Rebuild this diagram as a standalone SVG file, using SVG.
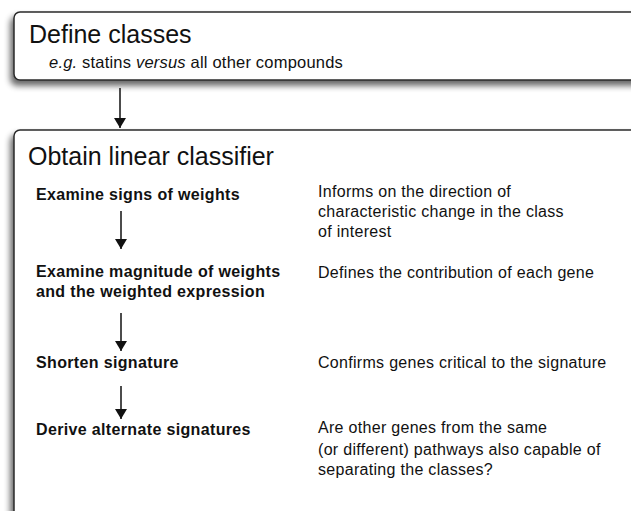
<svg xmlns="http://www.w3.org/2000/svg" width="631" height="511" viewBox="0 0 631 511">
<style>
.box{fill:#fff;stroke:#2a2a2a;stroke-width:1.5}
.title{font-family:"Liberation Sans",Arial,sans-serif;font-size:25px;fill:#111}
.sub{font-family:"Liberation Sans",Arial,sans-serif;font-size:16.5px;fill:#111;letter-spacing:0.2px}
.step{font-family:"Liberation Sans",Arial,sans-serif;font-size:16px;font-weight:bold;fill:#111;letter-spacing:0.35px}
.desc{font-family:"Liberation Sans",Arial,sans-serif;font-size:16px;fill:#111;letter-spacing:0.3px}
.conn{stroke:#111;stroke-width:1.5;fill:none}
</style>
<defs>
<marker id="ah" viewBox="0 0 10 12" refX="10" refY="6" markerWidth="10" markerHeight="12" markerUnits="userSpaceOnUse" orient="auto">
<path d="M0,0 L10,6 L0,12 z" fill="#111"/>
</marker>
<filter id="sh" x="-10%" y="-20%" width="130%" height="160%">
<feGaussianBlur in="SourceAlpha" stdDeviation="3"/>
<feOffset dx="-3" dy="5" result="b"/>
<feComponentTransfer><feFuncA type="linear" slope="0.6"/></feComponentTransfer>
<feMerge><feMergeNode/><feMergeNode in="SourceGraphic"/></feMerge>
</filter>
</defs>
<rect width="631" height="511" fill="#fff"/>
<g id="define-classes">
<rect class="box" x="14" y="12" width="640" height="68" rx="6" filter="url(#sh)"/>
<text class="title" x="29" y="43">Define classes</text>
<text class="sub" x="49" y="68"><tspan font-style="italic">e.g.</tspan> statins <tspan font-style="italic">versus</tspan> all other compounds</text>
</g>
<g id="obtain-classifier">
<rect class="box" x="14" y="130" width="640" height="420" rx="6" filter="url(#sh)"/>
<text class="title" x="28" y="165">Obtain linear classifier</text>
</g>
<g id="step-signs">
<text class="step" x="36" y="200">Examine signs of weights</text>
<text class="desc" x="318" y="197">Informs on the direction of</text>
<text class="desc" x="318" y="217">characteristic change in the class</text>
<text class="desc" x="318" y="237">of interest</text>
</g>
<g id="step-magnitude">
<text class="step" x="36" y="277">Examine magnitude of weights</text>
<text class="step" x="36" y="297">and the weighted expression</text>
<text class="desc" x="318" y="278">Defines the contribution of each gene</text>
</g>
<g id="step-shorten">
<text class="step" x="36" y="368">Shorten signature</text>
<text class="desc" x="318" y="368">Confirms genes critical to the signature</text>
</g>
<g id="step-derive">
<text class="step" x="36" y="435">Derive alternate signatures</text>
<text class="desc" x="318" y="433">Are other genes from the same</text>
<text class="desc" x="318" y="455">(or different) pathways also capable of</text>
<text class="desc" x="318" y="475">separating the classes?</text>
</g>
<g id="connectors">
<line class="conn" x1="120" y1="88" x2="120" y2="128" marker-end="url(#ah)"/>
<line class="conn" x1="121" y1="211" x2="121" y2="249" marker-end="url(#ah)"/>
<line class="conn" x1="121" y1="313" x2="121" y2="351" marker-end="url(#ah)"/>
<line class="conn" x1="121" y1="386" x2="121" y2="419" marker-end="url(#ah)"/>
</g>
</svg>
